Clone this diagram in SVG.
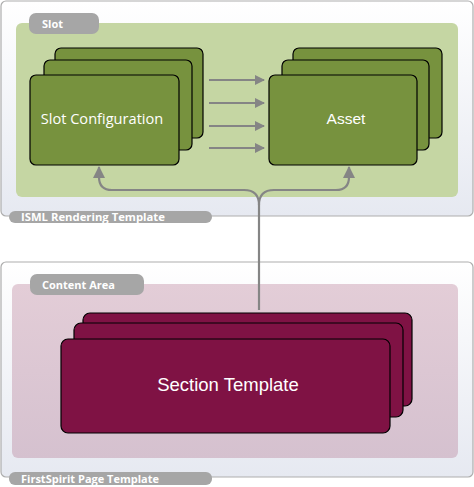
<svg xmlns="http://www.w3.org/2000/svg" width="474" height="487" viewBox="0 0 474 487">
<defs>
<linearGradient id="panelGrad" x1="0" y1="0" x2="0" y2="1">
<stop offset="0" stop-color="#ffffff"/>
<stop offset="1" stop-color="#e6e9f1"/>
</linearGradient>
<linearGradient id="pinkGrad" x1="0" y1="0" x2="0" y2="1">
<stop offset="0" stop-color="#e3cdd7"/>
<stop offset="1" stop-color="#d5c1cf"/>
</linearGradient>
<marker id="arr" viewBox="0 0 10 10" refX="9" refY="5" markerWidth="10" markerHeight="10" markerUnits="userSpaceOnUse" orient="auto">
<path d="M0,0 L10,5 L0,10 z" fill="#858585"/>
</marker>
<marker id="arrBig" viewBox="0 0 12 12" refX="11" refY="6" markerWidth="12" markerHeight="12" markerUnits="userSpaceOnUse" orient="auto">
<path d="M0,0 L12,6 L0,12 z" fill="#858585"/>
</marker>
</defs>
<style>
.panel{fill:url(#panelGrad);stroke:#adadad;stroke-width:1.2}
.tab{fill:#a6a6a6}
.tabtxt{font-family:"Open Sans","DejaVu Sans",sans-serif;font-weight:bold;font-size:11px;fill:#ffffff}
.green{fill:#77923e;stroke:#000;stroke-width:1.2}
.wine{fill:#7f1244;stroke:#000;stroke-width:1.2}
.ntxt{font-family:"Liberation Sans",Arial,sans-serif;fill:#ffffff;text-anchor:middle}
.conn{fill:none;stroke:#858585;stroke-width:2.2}
</style>

<g id="isml-template">
<rect class="panel" x="1" y="1" width="472" height="215" rx="5"/>
</g>
<g id="slot">
<rect x="16" y="23" width="442" height="174" rx="6" fill="#c5d6a3"/>
<rect class="tab" x="29" y="13" width="70" height="21" rx="7"/>
<text class="tabtxt" x="42" y="28">Slot</text>
</g>
<g id="isml-label">
<rect class="tab" x="9" y="211" width="203" height="12" rx="6"/>
<text class="tabtxt" x="21" y="221" style="font-size:11.3px">ISML Rendering Template</text>
</g>

<g id="firstspirit-template">
<rect class="panel" x="1" y="262" width="472" height="215" rx="5"/>
</g>
<g id="content-area">
<rect x="12" y="284" width="446" height="174" rx="6" fill="url(#pinkGrad)"/>
<rect class="tab" x="30" y="274" width="114" height="21" rx="7"/>
<text class="tabtxt" x="42" y="289">Content Area</text>
</g>
<g id="firstspirit-label">
<rect class="tab" x="9" y="472" width="203" height="13" rx="6"/>
<text class="tabtxt" x="21" y="483">FirstSpirit Page Template</text>
</g>

<g id="connectors">
<line class="conn" x1="209" y1="80" x2="264" y2="80" marker-end="url(#arr)"/>
<line class="conn" x1="209" y1="103" x2="264" y2="103" marker-end="url(#arr)"/>
<line class="conn" x1="209" y1="126" x2="264" y2="126" marker-end="url(#arr)"/>
<line class="conn" x1="209" y1="148" x2="264" y2="148" marker-end="url(#arr)"/>
<path class="conn" d="M259,310 L259,205 Q259,190 244,190 L112,190 Q99,190 99,177 L99,167" marker-end="url(#arrBig)"/>
<path class="conn" d="M259,205 Q259,190 274,190 L336,190 Q349,190 349,177 L349,167" marker-end="url(#arrBig)"/>
</g>

<g id="slot-configuration">
<rect class="green" x="55" y="48" width="148" height="90" rx="6"/>
<rect class="green" x="44" y="60" width="148" height="90" rx="6"/>
<rect class="green" x="30" y="75" width="149" height="90" rx="6"/>
<text class="ntxt" x="102" y="124" style="font-family:'Open Sans','DejaVu Sans',sans-serif;font-size:14.6px">Slot Configuration</text>
</g>

<g id="asset">
<rect class="green" x="293" y="48" width="149" height="90" rx="6"/>
<rect class="green" x="282" y="60" width="147" height="90" rx="6"/>
<rect class="green" x="269" y="75" width="148" height="90" rx="6"/>
<text class="ntxt" x="346" y="124" font-size="15.5">Asset</text>
</g>

<g id="section-template">
<rect class="wine" x="83" y="313" width="329" height="93" rx="7"/>
<rect class="wine" x="74" y="323" width="329" height="94" rx="7"/>
<rect class="wine" x="61" y="339" width="329" height="94" rx="7"/>
<text class="ntxt" x="228" y="391" font-size="18.5">Section Template</text>
</g>
</svg>
